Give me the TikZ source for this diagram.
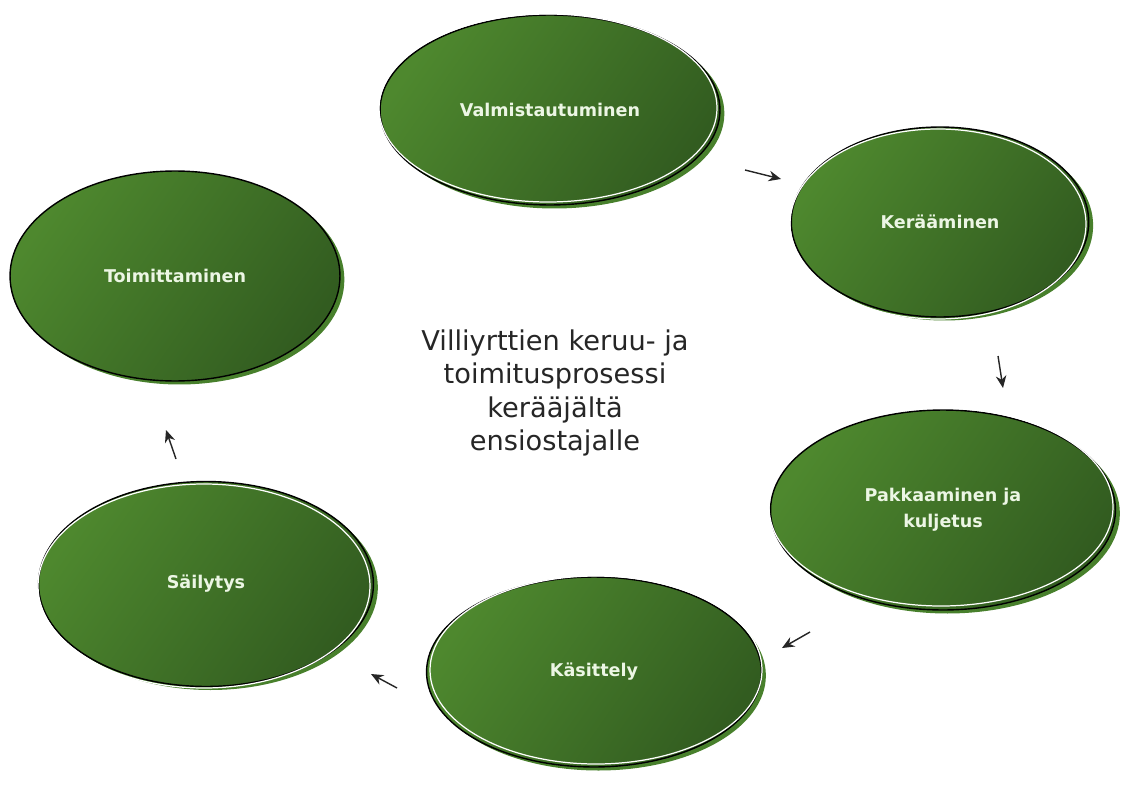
\documentclass[tikz,border=0pt]{standalone}
\usepackage{fontspec}
\setmainfont{DejaVu Sans}
\usetikzlibrary{shapes.geometric,shadows,arrows.meta}

\definecolor{leafLight}{RGB}{78,136,46}
\definecolor{leafDark}{RGB}{50,92,32}
\definecolor{leafRim}{RGB}{72,128,44}
\definecolor{leafText}{RGB}{236,246,228}

\tikzset{
    stage/.style={ellipse, draw=black, thick, left color=leafLight, right color=leafDark, shading angle=55,
        text=leafText, font=\bfseries\fontsize{10}{13}\selectfont, align=center, inner sep=0pt,
        general shadow={fill=leafRim, shadow xshift=2.5pt, shadow yshift=-2pt}},
    sketch/.style={white, line width=0.7pt},
    flow/.style={-{Stealth[length=7pt,width=6pt]}, line width=0.8pt, black!85}
}

\begin{document}
\begin{tikzpicture}[x=0.02cm, y=-0.02cm]
    \useasboundingbox[fill=white] (0,0) rectangle (1131,787);

    \node[stage, minimum width=6.8cm, minimum height=3.8cm] (valm) at (550,110) {Valmistautuminen};
    \node[stage, minimum width=5.95cm, minimum height=3.8cm] (keraa) at (940,222) {Kerääminen};
    \node[stage, minimum width=6.9cm, minimum height=4.0cm] (pakk) at (943,510) {Pakkaaminen ja\\[2pt] kuljetus};
    \node[stage, minimum width=6.7cm, minimum height=3.8cm] (kasit) at (594,672) {Käsittely};
    \node[stage, minimum width=6.7cm, minimum height=4.1cm] (sail) at (206,584) {Säilytys};
    \node[stage, minimum width=6.6cm, minimum height=4.2cm] (toim) at (175,276) {Toimittaminen};

    % sketchy white strokes
    \draw[sketch] ([shift={(-2,-2)}]valm.center) ellipse (169 and 94);
    \draw[sketch] ([shift={(-2,2)}]keraa.center) ellipse (148 and 95);
    \draw[sketch] ([shift={(-2,-3)}]pakk.center) ellipse (172 and 99);
    \draw[sketch] ([shift={(2,-2)}]kasit.center) ellipse (166 and 94);
    \draw[sketch] ([shift={(-2,2)}]sail.center) ellipse (166 and 102);

    \node[font=\fontsize{15.5}{19}\selectfont, align=center, text=black!85] (title) at (555,393)
        {Villiyrttien keruu- ja\\ toimitusprosessi\\ kerääjältä\\ ensiostajalle};

    \coordinate (a1) at (745,170); \coordinate (b1) at (781,179);
    \coordinate (a2) at (998,356); \coordinate (b2) at (1003,388);
    \coordinate (a3) at (810,632); \coordinate (b3) at (782,648);
    \coordinate (a4) at (397,688); \coordinate (b4) at (371,674);
    \coordinate (a5) at (176,459); \coordinate (b5) at (166,430);
    \foreach \i in {1,...,5}
        \draw[flow] (a\i) -- (b\i);
\end{tikzpicture}
\end{document}
